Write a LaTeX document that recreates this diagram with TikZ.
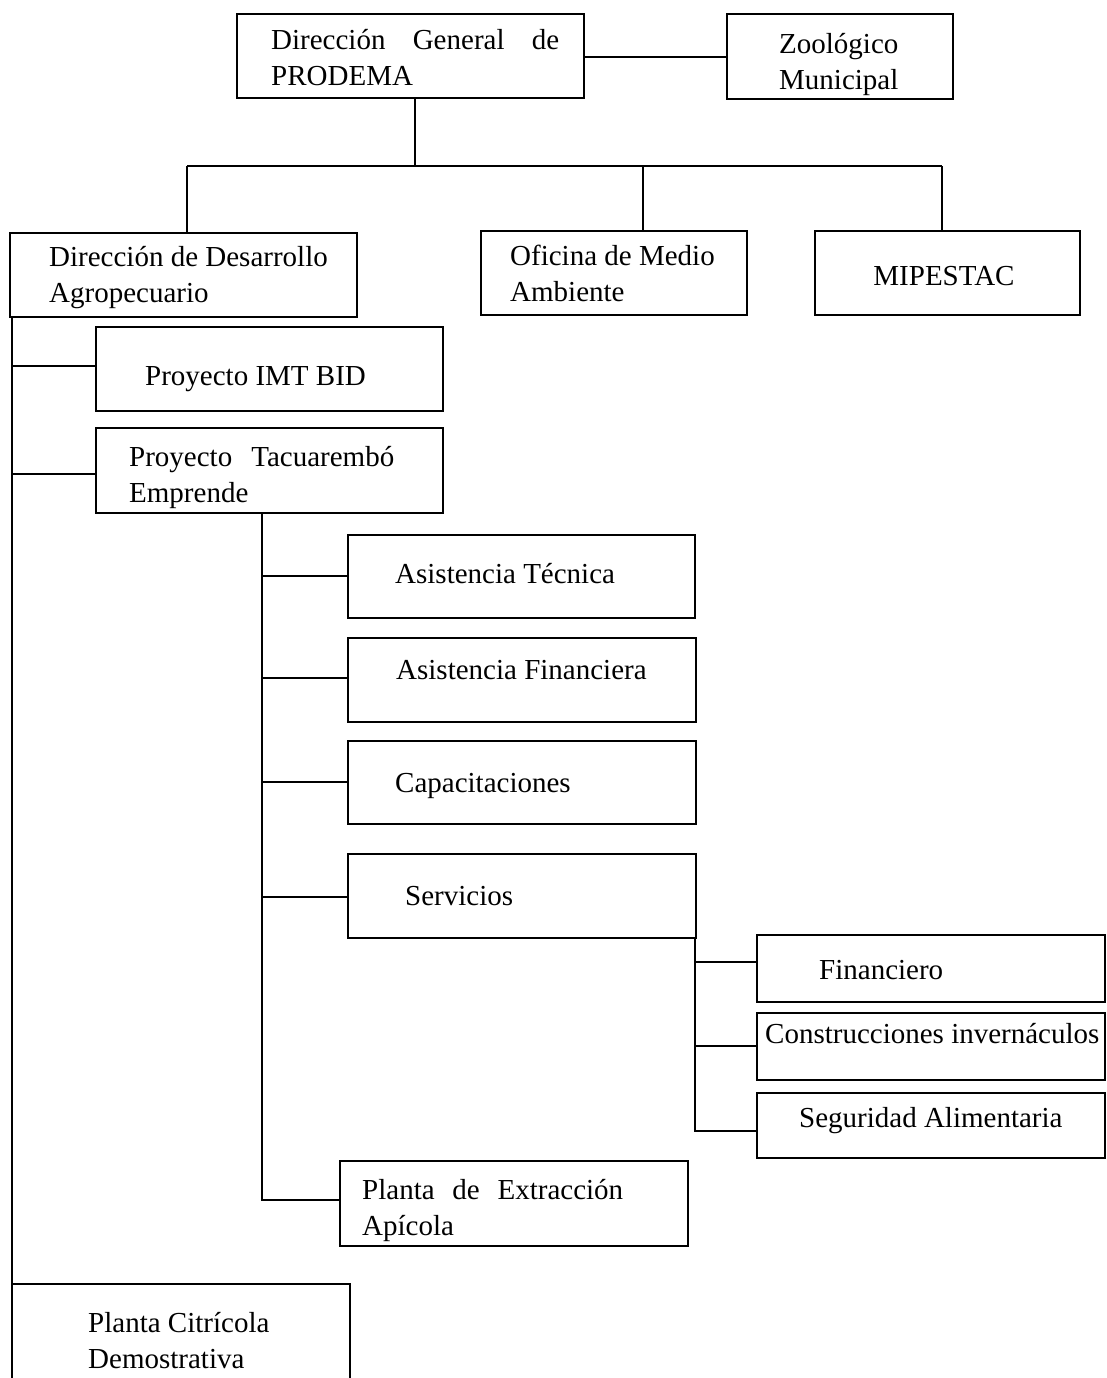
\documentclass[tikz,border=0pt]{standalone}
\usepackage{fontspec}
\setmainfont{Liberation Serif}
\begin{document}
\begin{tikzpicture}[x=1pt,y=-1pt,
  box/.style={draw, line width=2.6pt, inner sep=0pt},
  txt/.style={anchor=base west, inner sep=0pt, align=left, font=\fontsize{29}{36}\selectfont},
  conn/.style={line width=2.6pt}]
\clip (0,0) rectangle (1107,1378);
\fill[white] (0,0) rectangle (1107,1378);
% boxes
\node[box, minimum width=347pt, minimum height=84pt] (top) at (410.5,56) {};
\node[box, minimum width=226pt, minimum height=85pt] (zoo) at (840,56.5) {};
\node[box, minimum width=347pt, minimum height=84pt] (dda) at (183.5,275) {};
\node[box, minimum width=266pt, minimum height=84pt] (ofi) at (614,273) {};
\node[box, minimum width=265pt, minimum height=84pt] (mip) at (947.5,273) {};
\node[box, minimum width=347pt, minimum height=84pt] (imt) at (269.5,369) {};
\node[box, minimum width=347pt, minimum height=85pt] (tac) at (269.5,470.5) {};
\node[box, minimum width=347pt, minimum height=83pt] (at) at (521.5,576.5) {};
\node[box, minimum width=348pt, minimum height=84pt] (af) at (522,680) {};
\node[box, minimum width=348pt, minimum height=83pt] (cap) at (522,782.5) {};
\node[box, minimum width=348pt, minimum height=84pt] (serv) at (522,896) {};
\node[box, minimum width=348pt, minimum height=67pt] (fin) at (931,968.5) {};
\node[box, minimum width=348pt, minimum height=67pt] (con) at (931,1046.5) {};
\node[box, minimum width=348pt, minimum height=65pt] (seg) at (931,1125.5) {};
\node[box, minimum width=348pt, minimum height=85pt] (pea) at (514,1203.5) {};
\node[box, minimum width=338pt, minimum height=111pt] (pcd) at (181,1339.5) {};
% texts (base = last line)
\node[txt] (top-t) at (271,86) {\hbox to 288pt{Dirección\hfill General\hfill de}\\PRODEMA};
\node[txt] (zoo-t) at (779,90) {Zoológico\\Municipal};
\node[txt] (dda-t) at (49,302) {Dirección de Desarrollo\\Agropecuario};
\node[txt] (ofi-t) at (510,301) {Oficina de Medio\\Ambiente};
\node[txt, anchor=base] (mip-t) at (944,285) {MIPESTAC};
\node[txt] (imt-t) at (145,385) {Proyecto IMT BID};
\node[txt] (tac-t) at (129,502) {\hbox to 265pt{Proyecto\hfill Tacuarembó}\\Emprende};
\node[txt] (at-t) at (395,583) {Asistencia Técnica};
\node[txt] (af-t) at (396,679) {Asistencia Financiera};
\node[txt] (cap-t) at (395,792) {Capacitaciones};
\node[txt] (serv-t) at (405,905) {Servicios};
\node[txt] (fin-t) at (819,979) {Financiero};
\node[txt] (con-t) at (765,1043) {Construcciones invernáculos};
\node[txt] (seg-t) at (799,1127) {Seguridad Alimentaria};
\node[txt] (pea-t) at (362,1235) {\hbox to 261pt{Planta\hfill de\hfill Extracción}\\Apícola};
\node[txt] (pcd-t) at (88,1368) {Planta Citrícola\\Demostrativa};
% junction coordinates
\coordinate (j0) at (415,166);
\coordinate (jL) at (187,166);
\coordinate (jM) at (643,166);
\coordinate (jR) at (942,166);
\coordinate (bus) at (12,0);
\coordinate (bus2) at (262,0);
\coordinate (bus3) at (695,0);
% connectors
\draw[conn] (top.east |- 0,57) -- (zoo.west |- 0,57);
\draw[conn] (top.south -| j0) -- (j0);
\draw[conn] (jL) -- (jR);
\draw[conn] (jL) -- (jL |- dda.north);
\draw[conn] (jM) -- (jM |- ofi.north);
\draw[conn] (jR) -- (jR |- mip.north);
\draw[conn] (dda.south -| bus) -- (pcd.north -| bus);
\draw[conn] (bus |- 0,366) -- (imt.west |- 0,366);
\draw[conn] (bus |- 0,474) -- (tac.west |- 0,474);
\draw[conn] (tac.south -| bus2) -- (bus2 |- 0,1200) -- (pea.west |- 0,1200);
\draw[conn] (bus2 |- 0,576) -- (at.west |- 0,576);
\draw[conn] (bus2 |- 0,678) -- (af.west |- 0,678);
\draw[conn] (bus2 |- 0,782) -- (cap.west |- 0,782);
\draw[conn] (bus2 |- 0,897) -- (serv.west |- 0,897);
\draw[conn] (serv.south -| bus3) -- (bus3 |- 0,1131) -- (seg.west |- 0,1131);
\draw[conn] (bus3 |- 0,962) -- (fin.west |- 0,962);
\draw[conn] (bus3 |- 0,1046) -- (con.west |- 0,1046);
\end{tikzpicture}
\end{document}
